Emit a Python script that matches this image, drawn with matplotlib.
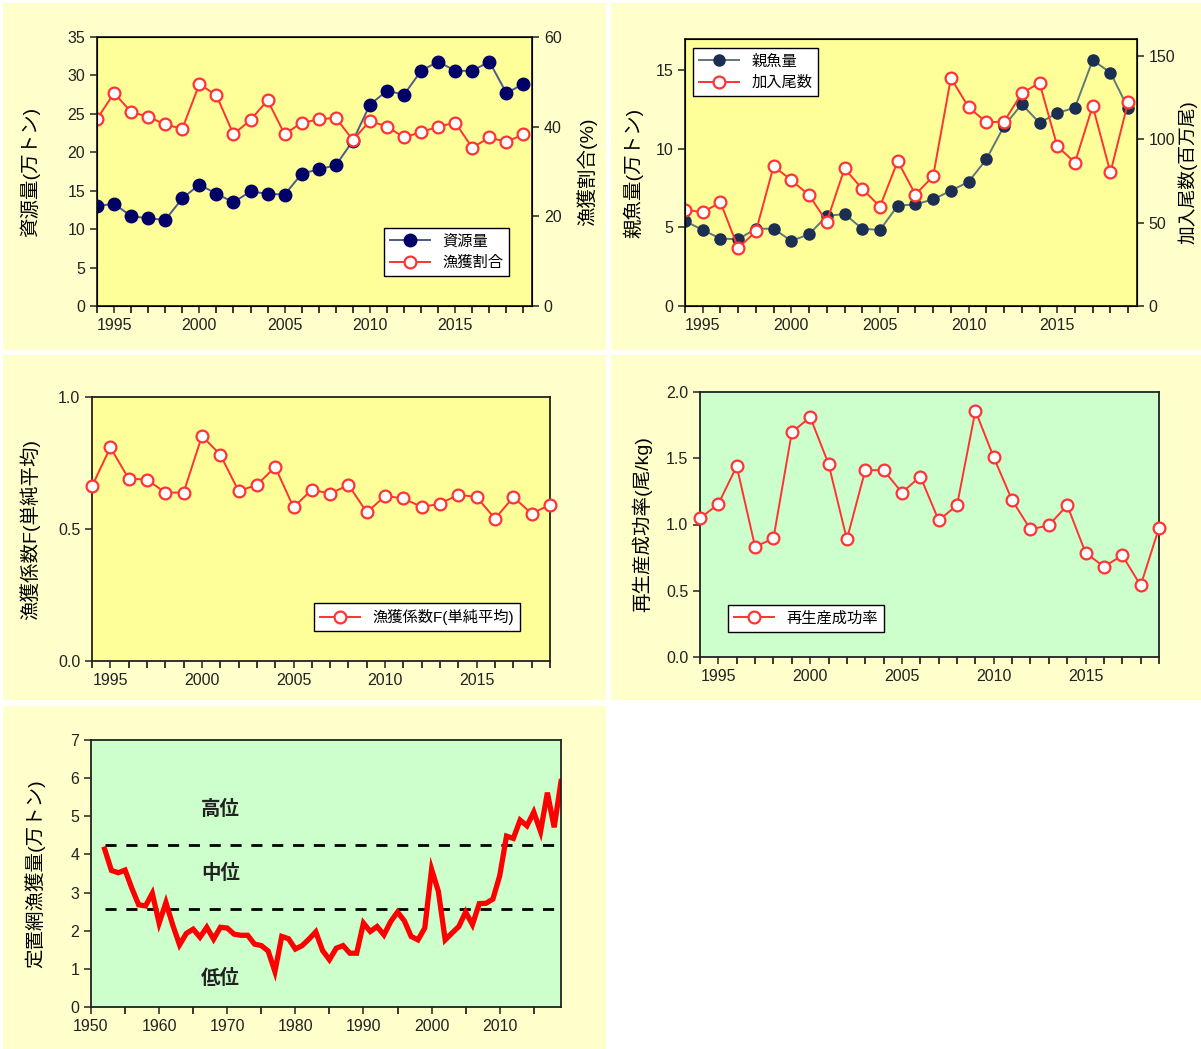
"""Stock assessment summary: biomass, catch ratio, SSB/recruits, F, RPS, set-net catch."""

import matplotlib
matplotlib.use("Agg")
import matplotlib.pyplot as plt
from matplotlib.patches import Rectangle
from matplotlib.ticker import MultipleLocator

plt.rcParams["font.family"] = ["Liberation Sans", "Noto Sans CJK JP", "DejaVu Sans"]

# ---------------------------------------------------------------------------
# Data
# ---------------------------------------------------------------------------

years = list(range(1994, 2020))

biomass = [13.0, 13.3, 11.7, 11.4, 11.2, 14.0, 15.8, 14.6, 13.5, 14.9, 14.6, 14.5,
           17.2, 17.8, 18.3, 21.5, 26.2, 28.0, 27.5, 30.6, 31.8, 30.6, 30.6, 31.8,
           27.7, 28.9]
catch_ratio = [41.7, 47.5, 43.3, 42.2, 40.5, 39.5, 49.5, 47.0, 38.3, 41.5, 45.9, 38.3,
               40.9, 41.6, 42.0, 37.0, 41.3, 40.0, 37.6, 38.8, 40.0, 40.9, 35.3, 37.6,
               36.6, 38.3]

ssb = [5.41, 4.84, 4.29, 4.25, 4.92, 4.92, 4.14, 4.57, 5.73, 5.86, 4.92, 4.84,
       6.39, 6.47, 6.79, 7.34, 7.91, 9.34, 11.46, 12.85, 11.66, 12.29, 12.63, 15.65,
       14.86, 12.59]
recruits = [57.8, 56.1, 62.2, 34.7, 44.7, 83.8, 75.4, 66.4, 50.5, 82.4, 70.2, 59.6,
            86.8, 66.8, 77.8, 136.6, 119.1, 110.1, 110.5, 127.4, 133.8, 95.8, 85.9,
            119.9, 80.0, 122.3]

fishing_f = [0.662, 0.809, 0.691, 0.687, 0.638, 0.638, 0.852, 0.782, 0.644, 0.667,
             0.735, 0.582, 0.649, 0.634, 0.667, 0.563, 0.625, 0.616, 0.583, 0.596,
             0.630, 0.621, 0.539, 0.621, 0.558, 0.592]

rps = [1.047, 1.155, 1.440, 0.832, 0.895, 1.695, 1.811, 1.458, 0.888, 1.410, 1.410,
       1.241, 1.362, 1.032, 1.145, 1.859, 1.506, 1.183, 0.963, 0.994, 1.145, 0.787,
       0.681, 0.767, 0.540, 0.974]

setnet_years = list(range(1952, 2020))
setnet_catch = [4.14, 3.58, 3.52, 3.59, 3.11, 2.68, 2.65, 2.98, 2.20, 2.74,
                2.15, 1.63, 1.93, 2.04, 1.83, 2.09, 1.78, 2.09, 2.07, 1.91,
                1.88, 1.88, 1.65, 1.61, 1.47, 0.93, 1.85, 1.79, 1.52, 1.61,
                1.78, 1.97, 1.48, 1.24, 1.54, 1.61, 1.41, 1.41, 2.20, 1.98,
                2.11, 1.89, 2.24, 2.49, 2.26, 1.85, 1.76, 2.07, 3.61, 3.03,
                1.76, 1.94, 2.11, 2.49, 2.16, 2.71, 2.72, 2.83, 3.44, 4.48,
                4.42, 4.90, 4.75, 5.11, 4.60, 5.62, 4.71, 5.91]

level_bounds = [4.26, 2.58]
level_labels = ["高位", "中位", "低位"]
level_label_y = [5.17, 3.51, 0.76]

# ---------------------------------------------------------------------------
# Layout helpers (pixel boxes on a 1201 x 1049 canvas)
# ---------------------------------------------------------------------------

W, H = 1201, 1049
fig = plt.figure(figsize=(W / 100, H / 100), dpi=100)
fig.patch.set_facecolor("white")

PANEL_BG = "#FFFFCC"
YELLOW = "#FFFF99"
GREEN = "#CCFFCC"
RED = "#FF3333"
TICK_FS = 11.5
LABEL_FS = 14


def panel(l, t, r, b):
    fig.patches.append(Rectangle((l / W, 1 - b / H), (r - l) / W, (b - t) / H,
                                 transform=fig.transFigure, facecolor=PANEL_BG,
                                 edgecolor="none", zorder=-10))


def px_axes(l, t, r, b, face):
    ax = fig.add_axes([l / W, 1 - b / H, (r - l) / W, (b - t) / H])
    ax.set_facecolor(face)
    for s in ax.spines.values():
        s.set_linewidth(1.3)
        s.set_color("#222222")
    ax.tick_params(direction="out", length=5, width=1.1, labelsize=TICK_FS,
                   colors="#222222")
    ax.tick_params(which="minor", direction="out", length=5, width=1.1)
    return ax


def year_axis(ax, x0, x1):
    ax.set_xlim(x0, x1)
    ax.xaxis.set_minor_locator(MultipleLocator(1))
    ax.set_xticks([1995, 2000, 2005, 2010, 2015])


for box in [(3, 3, 606, 350), (611, 3, 1201, 350), (3, 355, 606, 700),
            (611, 355, 1201, 700), (3, 706, 606, 1049)]:
    panel(*box)

red_kw = dict(color=RED, lw=1.4, marker="o", ms=8.5, mfc="white", mec=RED, mew=1.6)
leg_kw = dict(fontsize=11, frameon=True, fancybox=False, edgecolor="black",
              borderaxespad=0, handlelength=2.6, borderpad=0.4, labelspacing=0.5,
              framealpha=1)

# ---------------------------------------------------------------------------
# Panel 1: biomass and catch ratio
# ---------------------------------------------------------------------------

ax1 = px_axes(97, 37, 532, 306, YELLOW)
year_axis(ax1, 1994, 2019.5)
ax1.set_ylim(0, 35)
ax1.yaxis.set_major_locator(MultipleLocator(5))
l1, = ax1.plot(years, biomass, color="#4c5a8c", lw=1.4, marker="o", ms=9,
               mfc="#000066", mec="#000066", label="資源量")
ax1.set_ylabel("資源量(万トン)", fontsize=LABEL_FS, labelpad=20)
ax1b = ax1.twinx()
ax1b.set_ylim(0, 60)
ax1b.yaxis.set_major_locator(MultipleLocator(20))
ax1b.tick_params(direction="out", length=5, width=1.1, labelsize=TICK_FS,
                 colors="#222222")
l2, = ax1b.plot(years, catch_ratio, label="漁獲割合", **red_kw)
ax1b.set_ylabel("漁獲割合(%)", fontsize=LABEL_FS, labelpad=11)
ax1b.legend(handles=[l1, l2], loc="upper left", bbox_to_anchor=(0.66, 0.29), **leg_kw)

# ---------------------------------------------------------------------------
# Panel 2: spawning stock biomass and recruits
# ---------------------------------------------------------------------------

ax2 = px_axes(685, 39, 1137, 306, YELLOW)
year_axis(ax2, 1994, 2019.5)
ax2.set_ylim(0, 17)
ax2.yaxis.set_major_locator(MultipleLocator(5))
l3, = ax2.plot(years, ssb, color="#5f7878", lw=1.4, marker="o", ms=8,
               mfc="#1c2e52", mec="#1c2e52", label="親魚量")
ax2.set_ylabel("親魚量(万トン)", fontsize=LABEL_FS, labelpad=9)
ax2b = ax2.twinx()
ax2b.set_ylim(0, 160)
ax2b.yaxis.set_major_locator(MultipleLocator(50))
ax2b.tick_params(direction="out", length=5, width=1.1, labelsize=TICK_FS,
                 colors="#222222")
l4, = ax2b.plot(years, recruits, label="加入尾数", **red_kw)
ax2b.set_ylabel("加入尾数(百万尾)", fontsize=13.5, labelpad=2)
ax2b.legend(handles=[l3, l4], loc="upper left", bbox_to_anchor=(0.018, 0.966), **leg_kw)

# ---------------------------------------------------------------------------
# Panel 3: fishing mortality F
# ---------------------------------------------------------------------------

ax3 = px_axes(92, 397, 550, 661, YELLOW)
year_axis(ax3, 1994, 2019)
ax3.set_ylim(0, 1.0)
ax3.set_yticks([0.0, 0.5, 1.0])
ax3.set_yticklabels(["0.0", "0.5", "1.0"])
ax3.plot(years, fishing_f, label="漁獲係数F(単純平均)", clip_on=False, zorder=3, **red_kw)
ax3.set_ylabel("漁獲係数F(単純平均)", fontsize=LABEL_FS, labelpad=13)
ax3.legend(loc="upper left", bbox_to_anchor=(0.485, 0.22), **leg_kw)

# ---------------------------------------------------------------------------
# Panel 4: recruitment per spawning biomass
# ---------------------------------------------------------------------------

ax4 = px_axes(700, 392, 1159, 657, GREEN)
year_axis(ax4, 1994, 2019)
ax4.set_ylim(0, 2.0)
ax4.set_yticks([0.0, 0.5, 1.0, 1.5, 2.0])
ax4.set_yticklabels(["0.0", "0.5", "1.0", "1.5", "2.0"])
ax4.plot(years, rps, label="再生産成功率", clip_on=False, zorder=3, **red_kw)
ax4.set_ylabel("再生産成功率(尾/kg)", fontsize=LABEL_FS, labelpad=10)
ax4.legend(loc="upper left", bbox_to_anchor=(0.061, 0.196), **leg_kw)

# ---------------------------------------------------------------------------
# Panel 5: set-net catch with stock level bands
# ---------------------------------------------------------------------------

ax5 = px_axes(91, 740, 561, 1007, GREEN)
ax5.set_xlim(1950, 2019)
ax5.set_ylim(0, 7)
ax5.xaxis.set_major_locator(MultipleLocator(10))
ax5.xaxis.set_minor_locator(MultipleLocator(5))
ax5.yaxis.set_major_locator(MultipleLocator(1))
for yb in level_bounds:
    ax5.plot([setnet_years[0], 2019], [yb, yb], color="black", lw=2,
             dashes=(4, 3.5))
ax5.plot(setnet_years, setnet_catch, color="#FF0000", lw=3.8, solid_joinstyle="miter")
for lab, yl in zip(level_labels, level_label_y):
    ax5.text(1969, yl, lab, ha="center", va="center", fontsize=14, fontweight="bold",
             color="#222222")
ax5.set_ylabel("定置網漁獲量(万トン)", fontsize=LABEL_FS, labelpad=18)

fig.savefig("out.png", dpi=100, facecolor=fig.get_facecolor())
plt.close(fig)
